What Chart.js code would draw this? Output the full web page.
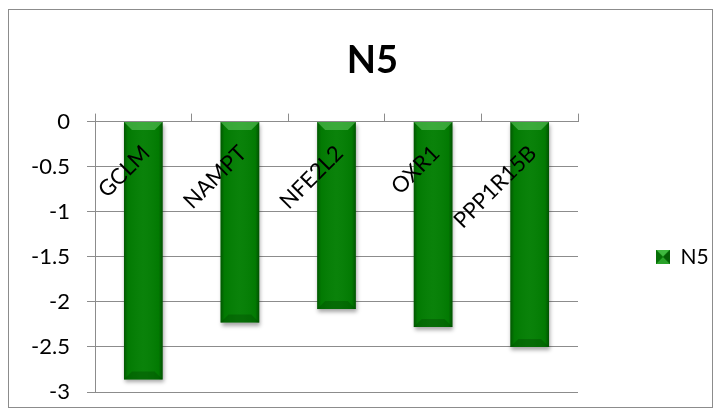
<!DOCTYPE html>
<html>
<head>
<meta charset="utf-8">
<script src="https://cdn.jsdelivr.net/npm/chart.js@4.4.1/dist/chart.umd.min.js"></script>
<style>
  html, body { margin: 0; padding: 0; background: #fff; }
  #wrap { width: 721px; height: 416px; position: relative; }
</style>
</head>
<body>
<div id="wrap"><canvas id="c" width="721" height="416"></canvas></div>
<script>
// Genes on the category axis
const categories = ['GCLM', 'NAMPT', 'NFE2L2', 'OXR1', 'PPP1R15B'];
// N5 series values
const n5Values = [-2.86, -2.23, -2.08, -2.28, -2.50];
// Value-axis tick labels
const yTicks = [0, -0.5, -1, -1.5, -2, -2.5, -3];

const FONT = 'Lato, "Open Sans", sans-serif';
const LEGEND_WIDTH = 137;

// Small beveled square used as the legend swatch
function makeSwatch(size) {
  const cv = document.createElement('canvas');
  cv.width = size; cv.height = size;
  const g = cv.getContext('2d');
  const m = size / 2;
  g.fillStyle = '#0b8a0b'; g.fillRect(0, 0, size, size);
  g.fillStyle = '#3fb83f';
  g.beginPath(); g.moveTo(0, 0); g.lineTo(size, 0); g.lineTo(m, m); g.closePath(); g.fill();
  g.fillStyle = '#2aa22a';
  g.beginPath(); g.moveTo(0, size); g.lineTo(size, size); g.lineTo(m, m); g.closePath(); g.fill();
  g.fillStyle = '#066f06';
  g.beginPath(); g.moveTo(0, 0); g.lineTo(m, m); g.lineTo(0, size); g.closePath(); g.fill();
  g.fillStyle = '#055e05';
  g.beginPath(); g.moveTo(size, 0); g.lineTo(m, m); g.lineTo(size, size); g.closePath(); g.fill();
  return cv;
}
const swatch = makeSwatch(14);

// Outer frame around the whole chart
const framePlugin = {
  id: 'frame',
  beforeDraw(chart) {
    const c = chart.ctx;
    c.save();
    c.fillStyle = '#fff';
    c.fillRect(0, 0, chart.width, chart.height);
    c.strokeStyle = '#8c8c8c';
    c.lineWidth = 1;
    c.strokeRect(8.5, 9.5, 704, 398);
    c.restore();
  }
};

// Fixed legend column width, and a slight rightward nudge of the title block
const layoutTweaks = {
  id: 'layoutTweaks',
  beforeUpdate(chart) {
    const lg = chart.legend;
    if (lg && !lg._fixedWidth) {
      const fit = lg.fit;
      lg.fit = function () {
        fit.call(this);
        this.width = LEGEND_WIDTH;
      };
      lg._fixedWidth = true;
    }
  },
  afterLayout(chart) {
    if (chart.titleBlock) chart.titleBlock.left += 10;
  }
};

// Soft drop shadow under the bars
const shadowPlugin = {
  id: 'barShadow',
  beforeDatasetsDraw(chart) {
    const c = chart.ctx;
    c.save();
    c.shadowColor = 'rgba(0,0,0,0.35)';
    c.shadowBlur = 4;
    c.shadowOffsetY = 3;
    c.shadowOffsetX = 1;
  },
  afterDatasetsDraw(chart) {
    chart.ctx.restore();
  }
};

// Bevel shading on each bar, then the rotated category labels on top
const bevelLabelPlugin = {
  id: 'bevelLabels',
  afterDatasetsDraw(chart) {
    const c = chart.ctx;
    const meta = chart.getDatasetMeta(0);
    meta.data.forEach(bar => {
      const p = bar.getProps(['x', 'y', 'base', 'width'], true);
      const l = p.x - p.width / 2, r = p.x + p.width / 2;
      const top = Math.min(p.y, p.base), bot = Math.max(p.y, p.base);
      c.save();
      const g = c.createLinearGradient(l, 0, r, 0);
      g.addColorStop(0, 'rgba(0,40,0,0.45)');
      g.addColorStop(0.1, 'rgba(0,40,0,0.05)');
      g.addColorStop(0.5, 'rgba(255,255,255,0.03)');
      g.addColorStop(0.9, 'rgba(0,40,0,0.05)');
      g.addColorStop(1, 'rgba(0,40,0,0.5)');
      c.fillStyle = g;
      c.fillRect(l, top, p.width, bot - top);
      // lighter bevel at the axis end
      const bv = 8;
      c.fillStyle = 'rgba(120,220,120,0.45)';
      c.beginPath();
      c.moveTo(l, top); c.lineTo(r, top); c.lineTo(r - bv, top + bv); c.lineTo(l + bv, top + bv);
      c.closePath(); c.fill();
      // subtle bevel at the far end
      c.fillStyle = 'rgba(0,60,0,0.3)';
      c.beginPath();
      c.moveTo(l, bot); c.lineTo(r, bot); c.lineTo(r - bv, bot - bv); c.lineTo(l + bv, bot - bv);
      c.closePath(); c.fill();
      c.restore();
    });

    const xs = chart.scales.x, ys = chart.scales.y;
    const y0 = ys.getPixelForValue(0);
    c.save();
    c.font = '22px ' + FONT;
    c.fillStyle = '#000';
    c.textAlign = 'right';
    c.textBaseline = 'middle';
    categories.forEach((lab, i) => {
      const x = xs.getPixelForValue(i);
      c.save();
      c.translate(x + 3, y0 + 28);
      c.rotate(-Math.PI / 4);
      c.fillText(lab, 0, 0);
      c.restore();
    });
    c.restore();
  }
};

new Chart(document.getElementById('c'), {
  type: 'bar',
  data: {
    labels: categories,
    datasets: [{
      label: 'N5',
      data: n5Values,
      backgroundColor: '#027e02',
      borderWidth: 0,
      barPercentage: 0.4,
      categoryPercentage: 1.0
    }]
  },
  options: {
    responsive: false,
    animation: false,
    devicePixelRatio: 1,
    layout: { padding: { left: 20, right: 6, top: 14, bottom: 24 } },
    plugins: {
      title: {
        display: true,
        text: 'N5',
        color: '#000',
        font: { family: FONT, size: 38, weight: 'bold' },
        padding: { top: 24, bottom: 30 }
      },
      legend: {
        position: 'right',
        fullSize: false,
        align: 'center',
        labels: {
          color: '#000',
          font: { family: FONT, size: 21 },
          usePointStyle: true,
          boxWidth: 14,
          boxHeight: 14,
          padding: 78,
          generateLabels(chart) {
            return [{
              text: 'N5',
              fillStyle: '#0a8a0a',
              strokeStyle: '#056b05',
              lineWidth: 0,
              pointStyle: swatch,
              datasetIndex: 0
            }];
          }
        }
      },
      tooltip: { enabled: false }
    },
    scales: {
      x: {
        position: 'top',
        offset: true,
        grid: {
          offset: true,
          drawOnChartArea: false,
          drawTicks: true,
          tickLength: 8,
          color: '#8c8c8c'
        },
        border: { color: '#8c8c8c', width: 1 },
        ticks: { display: false }
      },
      y: {
        min: -3,
        max: 0,
        afterBuildTicks(axis) {
          axis.ticks = yTicks.map(v => ({ value: v }));
        },
        ticks: {
          color: '#000',
          font: { family: FONT, size: 22 },
          padding: 17,
          callback: v => String(v)
        },
        grid: { color: '#8c8c8c', tickLength: 8, drawTicks: true },
        border: { color: '#8c8c8c', width: 1 },
        afterFit(axis) {
          axis.width = 75;
          axis.paddingTop = 0;
          axis.paddingBottom = 0;
        }
      }
    }
  },
  plugins: [framePlugin, layoutTweaks, shadowPlugin, bevelLabelPlugin]
});
</script>
</body>
</html>
